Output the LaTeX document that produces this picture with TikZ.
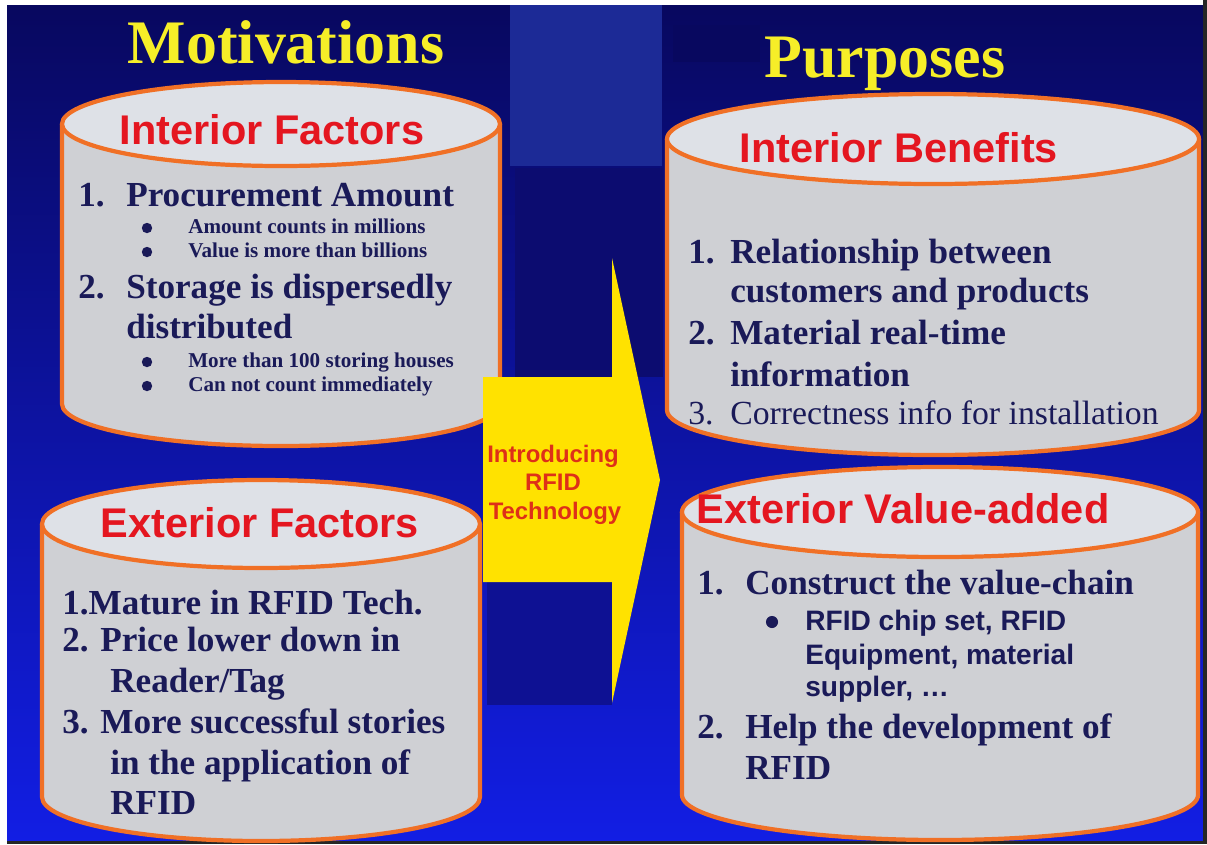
\documentclass[tikz,border=0pt]{standalone}
\usepackage{fontspec}
\setmainfont{Liberation Serif}
\setsansfont{Liberation Sans}
\usepackage{tikz}

\definecolor{bgtop}{RGB}{8,8,95}
\definecolor{bgmid}{RGB}{22,32,195}
\definecolor{bgbot}{RGB}{18,30,228}
\definecolor{bgdark}{RGB}{12,12,112}
\definecolor{bgband}{RGB}{28,42,150}
\definecolor{titleyellow}{RGB}{246,238,40}
\definecolor{headred}{RGB}{228,22,32}
\definecolor{textnavy}{RGB}{26,26,88}
\definecolor{arrowred}{RGB}{222,48,24}
\definecolor{arrowyellow}{RGB}{255,226,0}
\definecolor{drumgray}{RGB}{207,208,212}
\definecolor{drumlight}{RGB}{222,225,231}
\definecolor{drumedge}{RGB}{240,112,38}

% left x, right x, top y, bottom y, y radius
\newcommand{\drum}[5]{%
  \pgfmathsetmacro\drumrx{(#2-#1)/2}%
  \pgfmathsetmacro\drumcx{(#2+#1)/2}%
  \filldraw[drum body] (#1,#3) -- (#1,#4)
    arc[start angle=180,end angle=0,x radius=\drumrx,y radius=#5] -- (#2,#3);
  \filldraw[drum top] (\drumcx,#3) ellipse[x radius=\drumrx,y radius=#5];
}

\begin{document}
\begin{tikzpicture}[x=0.025cm,y=-0.025cm,
  title node/.style={font=\bfseries\fontsize{44}{44}\selectfont,text=titleyellow,inner sep=0pt,anchor=base},
  head node/.style={font=\sffamily\bfseries\fontsize{29.5}{30}\selectfont,text=headred,inner sep=0pt,anchor=base},
  item node/.style={font=\bfseries\fontsize{25}{25}\selectfont,text=textnavy,inner sep=0pt,anchor=base west},
  plain node/.style={font=\fontsize{24}{24}\selectfont,text=textnavy,inner sep=0pt,anchor=base west},
  sub node/.style={font=\bfseries\fontsize{15}{15}\selectfont,text=textnavy,inner sep=0pt,anchor=base west},
  chip node/.style={font=\sffamily\bfseries\fontsize{20}{20}\selectfont,text=textnavy,inner sep=0pt,anchor=base west},
  dot node/.style={circle,fill=textnavy,inner sep=0pt,minimum size=7.4pt},
  big dot/.style={dot node,minimum size=8.6pt},
  arrow text/.style={font=\sffamily\bfseries\fontsize{17}{17}\selectfont,text=arrowred,inner sep=0pt,anchor=base},
  drum body/.style={fill=drumgray,draw=drumedge,line width=3pt},
  drum top/.style={fill=drumlight,draw=drumedge,line width=3pt}]

  \useasboundingbox (0,0) rectangle (1207,844);

  % slide background
  \fill[white] (0,0) rectangle (1207,844);
  \shade[top color=bgtop,middle color=bgmid,bottom color=bgbot] (7,5) rectangle (1203,841);
  \fill[bgband] (510,5) rectangle (662,166);
  \fill[bgdark] (515,168) rectangle (663,377);
  \fill[bgdark!70!bgbot] (487,582) rectangle (612,705);
  \fill[bgtop] (673,25) rectangle (760,62);
  \fill[black!85] (1203,0) rectangle (1207,844);
  \fill[black!85] (7,841) rectangle (1207,844);

  % cylinders
  \drum{62}{500}{124}{404}{42}
  \drum{42}{480}{524}{797}{44}
  \drum{667}{1199}{139}{410}{45}
  \drum{682}{1198}{512}{795}{45}

  % arrow
  \fill[arrowyellow] (483,377) -- (612,377) -- (612,258) -- (660,480)
    -- (612,703) -- (612,582) -- (483,582) -- cycle;
  \node[arrow text] (intro1) at (553,462) {Introducing};
  \node[arrow text] (intro2) at (553,490) {RFID};
  \node[arrow text] (intro3) at (555,519) {Technology};

  % titles
  \node[title node] (motiv) at (286,63) {Motivations};
  \node[title node] (purp) at (885,77) {Purposes};

  % interior factors
  \node[head node] (ifhead) at (272,144) {Interior Factors};
  \node[item node] (if1n) at (78,206) {1.};
  \node[item node] (if1) at (126,206) {Procurement Amount};
  \node[dot node] (if1ad) at (147,228) {};
  \node[sub node] (if1a) at (188,233) {Amount counts in millions};
  \node[dot node] (if1bd) at (147,252) {};
  \node[sub node] (if1b) at (188,257) {Value is more than billions};
  \node[item node] (if2n) at (78,298) {2.};
  \node[item node] (if2) at (126,298) {Storage is dispersedly};
  \node[item node] (if2x) at (126,338) {distributed};
  \node[dot node] (if2ad) at (147,362) {};
  \node[sub node] (if2a) at (188,367) {More than 100 storing houses};
  \node[dot node] (if2bd) at (147,386) {};
  \node[sub node] (if2b) at (188,391) {Can not count immediately};

  % exterior factors
  \node[head node] (efhead) at (260,537) {Exterior Factors};
  \node[item node] (ef1) at (62,614) {1.Mature in RFID Tech.};
  \node[item node] (ef2) at (62,651) {2. Price lower down in};
  \node[item node] (ef2x) at (110,692) {Reader/Tag};
  \node[item node] (ef3) at (62,733) {3. More successful stories};
  \node[item node] (ef3x) at (110,774) {in the application of};
  \node[item node] (ef3y) at (110,814) {RFID};

  % interior benefits
  \node[head node] (ibhead) at (899,162) {Interior Benefits};
  \node[item node] (ib1n) at (688,263) {1.};
  \node[item node] (ib1) at (730,263) {Relationship between};
  \node[item node] (ib1x) at (730,302) {customers and products};
  \node[item node] (ib2n) at (688,344) {2.};
  \node[item node] (ib2) at (730,344) {Material real-time};
  \node[item node] (ib2x) at (730,386) {information};
  \node[plain node] (ib3n) at (688,424) {3.};
  \node[plain node] (ib3) at (730,424) {Correctness info for installation};

  % exterior value-added
  \node[head node] (evhead) at (903,523) {Exterior Value-added};
  \node[item node] (ev1n) at (697,594) {1.};
  \node[item node] (ev1) at (745,594) {Construct the value-chain};
  \node[big dot] (ev1ad) at (772,622) {};
  \node[chip node] (ev1a) at (805,630) {RFID chip set, RFID};
  \node[chip node] (ev1b) at (805,664) {Equipment, material};
  \node[chip node] (ev1c) at (805,696) {suppler, \dots};
  \node[item node] (ev2n) at (697,738) {2.};
  \node[item node] (ev2) at (745,738) {Help the development of};
  \node[item node] (ev2x) at (745,779) {RFID};

\end{tikzpicture}
\end{document}
